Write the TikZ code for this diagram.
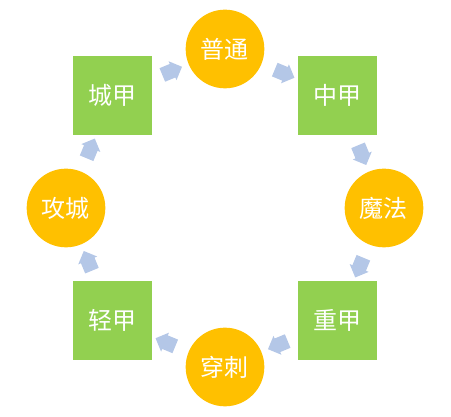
\documentclass[tikz,border=0pt]{standalone}
\usepackage{fontspec}
\newfontfamily\cjk{Noto Sans CJK SC}
\usetikzlibrary{calc,shapes.arrows}

\definecolor{attackorange}{HTML}{FFC000}
\definecolor{armorgreen}{HTML}{92D050}
\definecolor{cycleblue}{HTML}{B4C7E7}

\begin{document}
\begin{tikzpicture}[x=0.75pt,y=0.75pt,
  attack/.style={circle,fill=attackorange,minimum size=59pt,inner sep=0pt,
    text=white,font=\cjk\fontsize{18pt}{20pt}\selectfont},
  armor/.style={rectangle,fill=armorgreen,minimum size=59pt,inner sep=0pt,
    text=white,font=\cjk\fontsize{18pt}{20pt}\selectfont},
  turn/.style={single arrow,fill=cycleblue,inner xsep=0pt,inner ysep=5.3pt,
    minimum height=16pt,single arrow head extend=2.2pt}]
  \useasboundingbox (-225,-209) rectangle (226,208);

  \node[attack] (normal) at (90:159) {普通};
  \node[armor] (medium) at (45:159) {中甲};
  \node[attack] (magic) at (0:159) {魔法};
  \node[armor] (heavy) at (-45:159) {重甲};
  \node[attack] (pierce) at (-90:159) {穿刺};
  \node[armor] (light) at (-135:159) {轻甲};
  \node[attack] (siege) at (180:159) {攻城};
  \node[armor] (fort) at (135:159) {城甲};

  % arrows sit halfway between neighbours, turning clockwise
  \foreach \from/\to/\dir in {normal/medium/-22.5,medium/magic/-67.5,
      magic/heavy/-112.5,heavy/pierce/-157.5,pierce/light/157.5,
      light/siege/112.5,siege/fort/67.5,fort/normal/22.5}
    \node[turn,rotate=\dir] (\from-\to) at ($(\from)!0.5!(\to)$) {};
\end{tikzpicture}
\end{document}
